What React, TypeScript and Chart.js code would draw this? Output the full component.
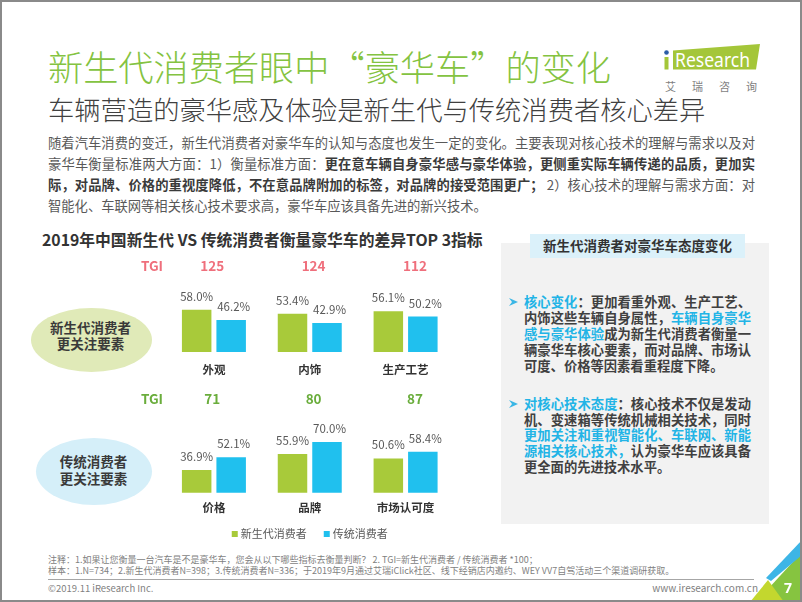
import React, { useEffect, useRef } from 'react';
import { Chart, registerables } from 'chart.js';

Chart.register(...registerables);

const FONT = '"Noto Sans CJK SC", "Noto Sans", sans-serif';

// ---------- data ----------
const seriesNames = ['新生代消费者', '传统消费者'];
const categoriesTop = ['外观', '内饰', '生产工艺'];
const newGenTop = [58.0, 53.4, 56.1];
const tradTop = [46.2, 42.9, 50.2];
const tgiTop = [125, 124, 112];
const categoriesBottom = ['价格', '品牌', '市场认可度'];
const newGenBottom = [36.9, 55.9, 50.6];
const tradBottom = [52.1, 70.0, 58.4];
const tgiBottom = [71, 80, 87];

const GREEN = '#a8ca3a';
const BLUE = '#20c0ee';

type PanelCfg = {
  left: number; top: number; width: number; height: number;
  padding: { left: number; right: number; top: number; bottom: number };
  yMax: number;
  labels: string[]; a: number[]; b: number[]; tgi: number[];
  tgiColor: string; tgiY: number; tgiLabelX: number; catOffset: number;
  legendY?: number;
};

function makePlugin(cfg: PanelCfg) {
  return {
    id: 'panelLabels',
    afterDatasetsDraw(chart: any) {
      const { ctx, chartArea } = chart;
      const x = chart.scales.x;
      ctx.save();
      ctx.textAlign = 'center';
      // value labels
      chart.data.datasets.forEach((ds: any, di: number) => {
        const meta = chart.getDatasetMeta(di);
        meta.data.forEach((el: any, i: number) => {
          ctx.font = `11.5px ${FONT}`;
          ctx.fillStyle = '#595959';
          ctx.textBaseline = 'alphabetic';
          ctx.fillText(Number(ds.data[i]).toFixed(1) + '%', el.x + (di === 1 ? 2.5 : 0), el.y - 9);
        });
      });
      // category labels
      ctx.font = `bold 11.5px ${FONT}`;
      ctx.fillStyle = '#333333';
      ctx.textBaseline = 'middle';
      chart.data.labels.forEach((l: string, i: number) => {
        ctx.fillText(l, x.getPixelForValue(i), chartArea.bottom + cfg.catOffset);
      });
      // TGI row
      ctx.font = `bold 13.5px ${FONT}`;
      ctx.fillStyle = cfg.tgiColor;
      ctx.fillText('TGI', cfg.tgiLabelX, cfg.tgiY);
      cfg.tgi.forEach((t, i) => ctx.fillText(String(t), x.getPixelForValue(i) + (i - 0.3) * 5.5, cfg.tgiY));
      // legend
      if (cfg.legendY != null) {
        ctx.font = `11px ${FONT}`;
        ctx.textAlign = 'left';
        const sq = 6, g1 = 3, g2 = 17;
        const ws = chart.data.datasets.map((d: any) => ctx.measureText(d.label).width);
        const total = ws.reduce((s: number, w: number) => s + w + sq + g1, 0) + g2 * (ws.length - 1);
        let lx = (chartArea.left + chartArea.right) / 2 - total / 2;
        chart.data.datasets.forEach((d: any, i: number) => {
          ctx.fillStyle = d.backgroundColor;
          ctx.fillRect(lx, cfg.legendY! - sq / 2, sq, sq);
          lx += sq + g1;
          ctx.fillStyle = '#595959';
          ctx.fillText(d.label, lx, cfg.legendY!);
          lx += ws[i] + g2;
        });
      }
      ctx.restore();
    },
  };
}

function BarPanel({ cfg }: { cfg: PanelCfg }) {
  const ref = useRef<HTMLCanvasElement>(null);
  useEffect(() => {
    const chart = new Chart(ref.current as HTMLCanvasElement, {
      type: 'bar',
      data: {
        labels: cfg.labels,
        datasets: [
          { label: seriesNames[0], data: cfg.a, backgroundColor: GREEN, categoryPercentage: 0.72, barPercentage: 0.855 },
          { label: seriesNames[1], data: cfg.b, backgroundColor: BLUE, categoryPercentage: 0.72, barPercentage: 0.855 },
        ],
      },
      options: {
        animation: false,
        responsive: false,
        maintainAspectRatio: false,
        devicePixelRatio: 1,
        layout: { padding: cfg.padding },
        scales: {
          x: { display: false },
          y: { display: false, min: 10, max: cfg.yMax },
        },
        plugins: { legend: { display: false }, tooltip: { enabled: false } },
      },
      plugins: [makePlugin(cfg)],
    } as any);
    return () => chart.destroy();
  }, []);
  return (
    <canvas
      ref={ref}
      width={cfg.width}
      height={cfg.height}
      style={{ position: 'absolute', left: cfg.left, top: cfg.top, width: cfg.width, height: cfg.height, display: 'block' }}
    />
  );
}

const topCfg: PanelCfg = {
  left: 120, top: 250, width: 360, height: 135,
  padding: { left: 46, right: 26.5, top: 40.3, bottom: 33 },
  yMax: 80,
  labels: categoriesTop, a: newGenTop, b: tradTop, tgi: tgiTop,
  tgiColor: '#ef6f7c', tgiY: 16, tgiLabelX: 32, catOffset: 18,
};

const bottomCfg: PanelCfg = {
  left: 120, top: 385, width: 360, height: 160,
  padding: { left: 46, right: 26.5, top: 40.1, bottom: 52.3 },
  yMax: 90,
  labels: categoriesBottom, a: newGenBottom, b: tradBottom, tgi: tgiBottom,
  tgiColor: '#6aad3c', tgiY: 14, tgiLabelX: 32, catOffset: 14.6, legendY: 149,
};

// ---------- text helpers ----------
function T({ x, y, size, color = '#333', bold = false, weight, right, children, style }: any) {
  const s: any = {
    position: 'absolute', top: y - 0.556 * size, fontSize: size, lineHeight: `${size}px`,
    color, fontWeight: weight ?? (bold ? 700 : 400), whiteSpace: 'nowrap', ...style,
  };
  if (right != null) s.right = right; else s.left = x;
  return <div style={s}>{children}</div>;
}

function Lines({ x, y, width, size, lh, color, bold = false, lines }: any) {
  return (
    <div style={{ position: 'absolute', left: x, top: y - lh / 2 - 0.056 * size, width, fontSize: size, lineHeight: `${lh}px`, color, fontWeight: bold ? 700 : 400 }}>
      {lines.map((ln: any, i: number) => (
        <div key={i} style={{ whiteSpace: 'nowrap', textAlign: 'justify', textAlignLast: ln.last ? 'left' : 'justify' } as any}>
          {ln.parts}
        </div>
      ))}
    </div>
  );
}

function Centered({ cx, y, size, lh, lines }: any) {
  return (
    <div style={{ position: 'absolute', left: cx - 60, width: 120, top: y - lh / 2 - 0.056 * size, fontSize: size, lineHeight: `${lh}px`, color: '#3a3a3a', fontWeight: 700, textAlign: 'center' }}>
      {lines.map((l: string, i: number) => <div key={i}>{l}</div>)}
    </div>
  );
}

const B = ({ children }: any) => <span style={{ fontWeight: 700, color: '#3a3a3a' }}>{children}</span>;
const C = ({ children }: any) => <span style={{ color: '#22b4e6' }}>{children}</span>;

function Arrow({ x, y }: { x: number; y: number }) {
  return (
    <svg style={{ position: 'absolute', left: x, top: y }} width={10} height={10}>
      <polygon points="0,1 9,5 0,9 3,5" fill="#3ab6e5" />
    </svg>
  );
}

export default function App() {
  return (
    <div style={{ position: 'fixed', left: 0, top: 0, width: 802, height: 602, background: '#fff', overflow: 'hidden', fontFamily: FONT }}>
      {/* Title */}
      <T x={48} y={68} size={35.2} color="#84c341" weight={300}>新生代消费者眼中“豪华车”的变化</T>
      <T x={48} y={111} size={26.3} color="#404040" weight={300}>车辆营造的豪华感及体验是新生代与传统消费者核心差异</T>

      {/* Logo */}
      <svg style={{ position: 'absolute', left: 0, top: 0 }} width={802} height={100}>
        <polygon points="673,50.5 760,44 756,69.5 673,69.5" fill="#a4c639" />
        <rect x={664.5} y={57} width={4} height={12.5} fill="#a4c639" />
        <circle cx={666.5} cy={52.5} r={2.3} fill="#2b5ca6" />
        <text x={675} y={67} fontSize={20} fill="#fff" textLength={75} lengthAdjust="spacingAndGlyphs" fontFamily='"Noto Sans", sans-serif'>Research</text>
        <text x={665} y={90.5} fontSize={11} fill="#7f7f7f" textLength={92} lengthAdjust="spacing" fontFamily={FONT}>艾瑞咨询</text>
      </svg>

      {/* Body paragraph */}
      <Lines
        x={48} y={143} width={707} size={13.3} lh={21} color="#595959"
        lines={[
          { parts: '随着汽车消费的变迁，新生代消费者对豪华车的认知与态度也发生一定的变化。主要表现对核心技术的理解与需求以及对' },
          { parts: <>豪华车衡量标准两大方面：1）衡量标准方面：<B>更在意车辆自身豪华感与豪华体验，更侧重实际车辆传递的品质，更加实</B></> },
          { parts: <><B>际，对品牌、价格的重视度降低，不在意品牌附加的标签，对品牌的接受范围更广；</B> 2）核心技术的理解与需求方面：对</> },
          { parts: '智能化、车联网等相关核心技术要求高，豪华车应该具备先进的新兴技术。', last: true },
        ]}
      />

      {/* Chart title */}
      <T x={42} y={240.5} size={15.8} color="#333" bold>2019年中国新生代 VS 传统消费者衡量豪华车的差异TOP 3指标</T>

      {/* Ellipses */}
      <div style={{ position: 'absolute', left: 31, top: 308, width: 121, height: 64, borderRadius: '50%', background: '#e0eab8' }} />
      <div style={{ position: 'absolute', left: 36, top: 438, width: 116, height: 67, borderRadius: '50%', background: '#d5eff9' }} />
      <Centered cx={90.5} y={328} size={13.5} lh={16} lines={['新生代消费者', '更关注要素']} />
      <Centered cx={93.5} y={462} size={13.5} lh={17} lines={['传统消费者', '更关注要素']} />

      {/* Charts */}
      <BarPanel cfg={topCfg} />
      <BarPanel cfg={bottomCfg} />

      {/* Right panel */}
      <div style={{ position: 'absolute', left: 501, top: 243, width: 268, height: 281, background: '#f2f2f2' }} />
      <div style={{ position: 'absolute', left: 530, top: 234, width: 215, height: 24, background: '#dbf1fa' }} />
      <T x={530} y={247} size={13.5} color="#333" bold style={{ width: 215, textAlign: 'center' }}>新生代消费者对豪华车态度变化</T>

      <Arrow x={509} y={297} />
      <Lines x={524} y={302.3} width={227} size={13.3} lh={16} color="#404040" bold
        lines={[
          { parts: <><C>核心变化</C>：更加看重外观、生产工艺、</> },
          { parts: <>内饰这些车辆自身属性，<C>车辆自身豪华</C></> },
          { parts: <><C>感与豪华体验</C>成为新生代消费者衡量一</> },
          { parts: '辆豪华车核心要素，而对品牌、市场认' },
          { parts: '可度、价格等因素看重程度下降。', last: true },
        ]}
      />
      <Arrow x={509} y={399} />
      <Lines x={524} y={404.3} width={227} size={13.3} lh={15.9} color="#404040" bold
        lines={[
          { parts: <><C>对核心技术态度</C>：核心技术不仅是发动</> },
          { parts: '机、变速箱等传统机械相关技术，同时' },
          { parts: <C>更加关注和重视智能化、车联网、新能</C> },
          { parts: <><C>源相关核心技术，</C>认为豪华车应该具备</> },
          { parts: '更全面的先进技术水平。', last: true },
        ]}
      />

      {/* Footer */}
      <T x={48} y={560.5} size={9} color="#7f7f7f">注释：1.如果让您衡量一台汽车是不是豪华车，您会从以下哪些指标去衡量判断？ 2. TGI=新生代消费者 / 传统消费者 *100；</T>
      <T x={48} y={571.5} size={9} color="#7f7f7f">样本：1.N=734；2.新生代消费者N=398；3.传统消费者N=336；于2019年9月通过艾瑞iClick社区、线下经销店内邀约、WEY VV7自驾活动三个渠道调研获取。</T>
      <div style={{ position: 'absolute', left: 48, top: 579, width: 706, height: 1, background: '#a6a6a6' }} />
      <T x={48} y={589} size={9.5} color="#7f7f7f">©2019.11 iResearch Inc.</T>
      <T right={802 - 758} y={589} size={10} color="#7f7f7f">www.iresearch.com.cn</T>

      {/* Corner decoration */}
      <svg style={{ position: 'absolute', left: 0, top: 0 }} width={802} height={602}>
        <polygon points="802,552 802,602 756,602" fill="#86c440" />
        <polygon points="768,580 784,602 750,602" fill="#c3d72e" />
        <polygon points="802,540 802,555 771,581 766,578" fill="#3db5e6" />
        <text x={788} y={593} fontSize={14} fill="#fff" fontWeight={700} textAnchor="middle" fontFamily='"Noto Sans", sans-serif'>7</text>
      </svg>

      {/* Page border */}
      <div style={{ position: 'absolute', left: 0, top: 0, width: 802, height: 602, boxSizing: 'border-box', border: '2px solid #8a8a8a', pointerEvents: 'none' }} />
    </div>
  );
}
